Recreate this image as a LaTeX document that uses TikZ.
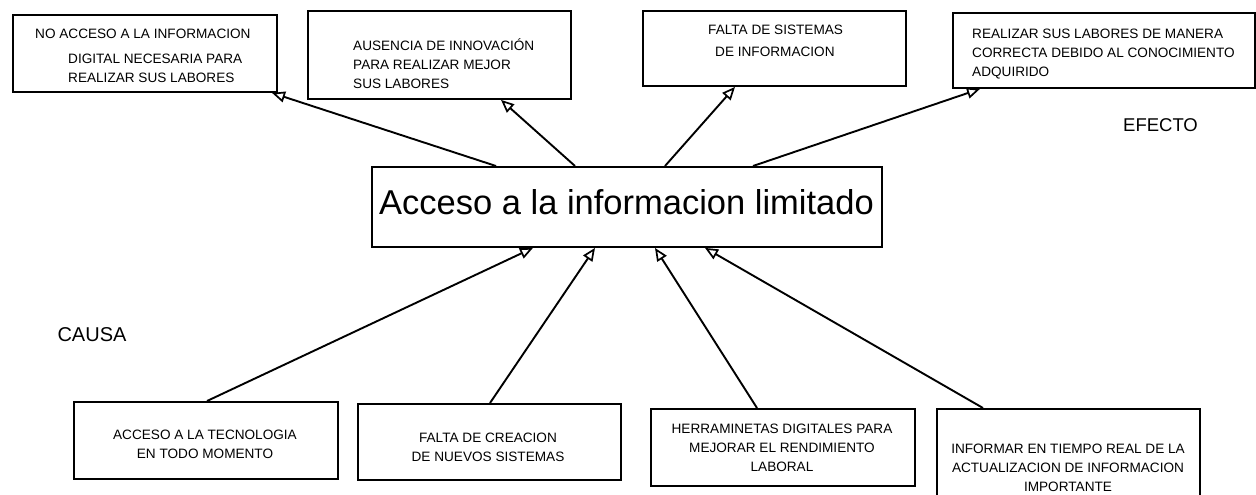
\documentclass[tikz,border=0pt]{standalone}
\usepackage{fontspec}
\setmainfont{Liberation Sans}
\usetikzlibrary{arrows.meta,calc}
\begin{document}
\begin{tikzpicture}[x=1pt,y=-1pt,
  box/.style={draw, line width=1.9pt, inner sep=0pt, anchor=north west},
  txt/.style={inner sep=0pt, font=\fontsize{13.6pt}{19pt}\selectfont},
  arr/.style={line width=1.9pt, -{Triangle[open,length=13pt,width=11pt,line width=1.7pt]}}]
\useasboundingbox (0,0) rectangle (1256,495);
\clip (0,0) rectangle (1256,495);
\fill[white] (0,0) rectangle (1256,495);

% effect boxes
\node[box, minimum width=264pt, minimum height=77pt] (E1) at (12,14) {};
\node[box, minimum width=263pt, minimum height=88pt] (E2) at (307,10) {};
\node[box, minimum width=263pt, minimum height=75pt] (E3) at (642,10) {};
\node[box, minimum width=302pt, minimum height=75pt] (E4) at (952,12) {};
% central problem
\node[box, minimum width=510pt, minimum height=80pt] (C) at (371,166) {};
% cause boxes
\node[box, minimum width=264pt, minimum height=77pt] (C1) at (73,401) {};
\node[box, minimum width=263pt, minimum height=76pt] (C2) at (357,403) {};
\node[box, minimum width=264pt, minimum height=77pt] (C3) at (650,408) {};
\node[box, minimum width=263pt, minimum height=110pt] (C4) at (936,408) {};

% texts
\node[txt, anchor=west, align=left] (tE1) at (35,56) {NO ACCESO A LA INFORMACION\\[6pt]\hspace*{33pt}DIGITAL NECESARIA PARA\\\hspace*{33pt}REALIZAR SUS LABORES};
\node[txt, anchor=west, align=left] (tE2) at (353,64) {AUSENCIA DE INNOVACIÓN\\PARA REALIZAR MEJOR\\SUS LABORES};
\node[txt, anchor=west, align=left] (tE3) at (708,41) {FALTA DE SISTEMAS\\[3pt]\hspace*{7pt}DE INFORMACION};
\node[txt, anchor=west, align=left] (tE4) at (972,54) {REALIZAR SUS LABORES DE MANERA\\CORRECTA DEBIDO AL CONOCIMIENTO\\ADQUIRIDO};
\node[inner sep=0pt, font=\fontsize{34.5pt}{40pt}\selectfont] (tC) at (626.5,202.5) {Acceso a la informacion limitado};
\node[txt, align=center] (tC1) at (205,444.5) {ACCESO A LA TECNOLOGIA\\EN TODO MOMENTO};
\node[txt, align=center] (tC2) at (488,447) {FALTA DE CREACION\\DE NUEVOS SISTEMAS};
\node[txt, align=center] (tC3) at (782,447.5) {HERRAMINETAS DIGITALES PARA\\MEJORAR EL RENDIMIENTO\\LABORAL};
\node[txt, align=center] (tC4) at (1068,468) {INFORMAR EN TIEMPO REAL DE LA\\ACTUALIZACION DE INFORMACION\\IMPORTANTE};
\node[inner sep=0pt, font=\fontsize{18.5pt}{22pt}\selectfont] (ef) at (1160.5,125) {EFECTO};
\node[inner sep=0pt, font=\fontsize{20pt}{24pt}\selectfont] (ca) at (92,335) {CAUSA};

% arrows: problem -> effects
\draw[arr] ($(C.north west)+(125,0)$) -- ($(E1.south west)+(260,0)$);
\draw[arr] ($(C.north west)+(204,0)$) -- ($(E2.south west)+(194,0)$);
\draw[arr] ($(C.north west)+(294,0)$) -- ($(E3.south west)+(93,0)$);
\draw[arr] ($(C.north west)+(382,0)$) -- ($(E4.south west)+(28,0)$);
% arrows: causes -> problem
\draw[arr] ($(C1.north west)+(134,0)$) -- ($(C.south west)+(162,0)$);
\draw[arr] ($(C2.north west)+(133,0)$) -- ($(C.south west)+(224,0)$);
\draw[arr] ($(C3.north west)+(107,0)$) -- ($(C.south west)+(284,0)$);
\draw[arr] ($(C4.north west)+(47,0)$) -- ($(C.south west)+(334,0)$);
\end{tikzpicture}
\end{document}
